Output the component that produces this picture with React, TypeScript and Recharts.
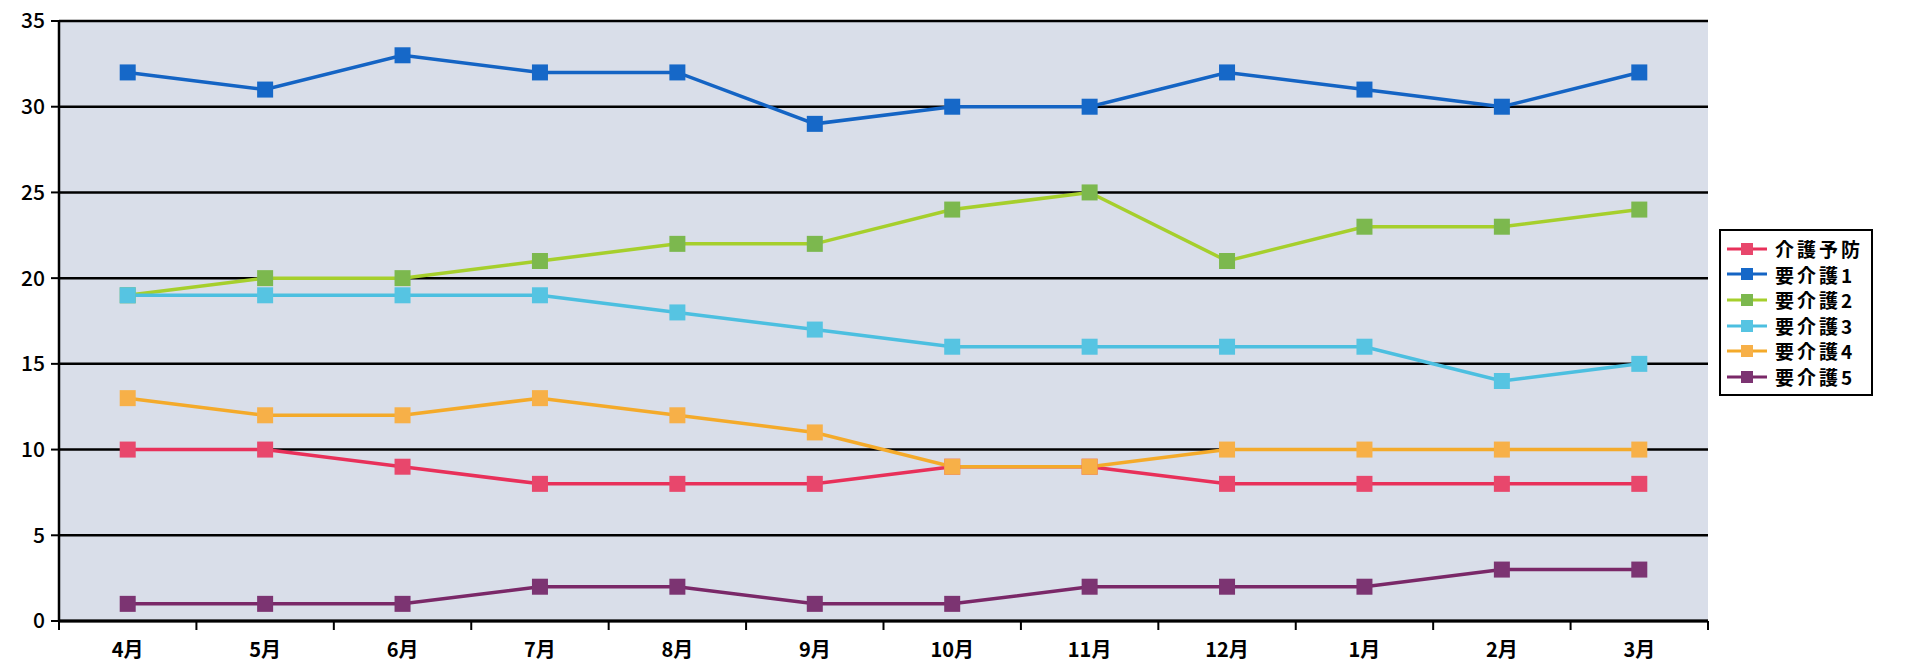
import {
  LineChart,
  Line,
  XAxis,
  YAxis,
  CartesianGrid,
} from "recharts";

const months = ["4月", "5月", "6月", "7月", "8月", "9月", "10月", "11月", "12月", "1月", "2月", "3月"];

const yobo = [10, 10, 9, 8, 8, 8, 9, 9, 8, 8, 8, 8];
const kaigo1 = [32, 31, 33, 32, 32, 29, 30, 30, 32, 31, 30, 32];
const kaigo2 = [19, 20, 20, 21, 22, 22, 24, 25, 21, 23, 23, 24];
const kaigo3 = [19, 19, 19, 19, 18, 17, 16, 16, 16, 16, 14, 15];
const kaigo4 = [13, 12, 12, 13, 12, 11, 9, 9, 10, 10, 10, 10];
const kaigo5 = [1, 1, 1, 2, 2, 1, 1, 2, 2, 2, 3, 3];

const yTicks = [0, 5, 10, 15, 20, 25, 30, 35];

const SERIES = [
  { key: "介護予防", values: yobo, line: "#e8305a", marker: "#e8476c" },
  { key: "要介護1", values: kaigo1, line: "#1464c4", marker: "#1668c8" },
  { key: "要介護2", values: kaigo2, line: "#a6cf2c", marker: "#7cb84e" },
  { key: "要介護3", values: kaigo3, line: "#4cbfe0", marker: "#56c4e2" },
  { key: "要介護4", values: kaigo4, line: "#f4aa2a", marker: "#f7b048" },
  { key: "要介護5", values: kaigo5, line: "#7a2868", marker: "#7c3472" },
];

const data = months.map((m, i) => {
  const row: Record<string, any> = { month: m };
  SERIES.forEach((s) => (row[s.key] = s.values[i]));
  return row;
});

const FONT = "'Noto Sans CJK JP', 'DejaVu Sans', sans-serif";

function SquareDot(props: any) {
  const { cx, cy, fill } = props;
  if (cx == null || cy == null) return null;
  return <rect x={cx - 8} y={cy - 8} width={16} height={16} fill={fill} />;
}

// month label at band centre, tick marks on the band edges (Excel style)
function MonthTick(props: any) {
  const { x, y, payload, index } = props;
  const half = payload?.offset ?? 68.7;
  return (
    <g>
      <line x1={x - half} y1={y - 8} x2={x - half} y2={y + 1} stroke="#000" strokeWidth={2} />
      {index === months.length - 1 && (
        <line x1={x + half} y1={y - 8} x2={x + half} y2={y + 1} stroke="#000" strokeWidth={2} />
      )}
      <text
        x={x}
        y={y + 28}
        textAnchor="middle"
        fontSize={20}
        fontWeight={700}
        fontFamily={FONT}
        fill="#000"
      >
        {payload.value}
      </text>
    </g>
  );
}

function LegendBox() {
  return (
    <div
      style={{
        position: "absolute",
        left: 1719,
        top: 229,
        border: "2px solid #000",
        background: "#fff",
        padding: "5px 8px 4px 6px",
        fontFamily: FONT,
        fontWeight: 700,
        fontSize: 19,
        letterSpacing: 3,
        lineHeight: "25.6px",
        color: "#000",
      }}
    >
      {SERIES.map((s) => (
        <div key={s.key} style={{ display: "flex", alignItems: "center", whiteSpace: "nowrap", height: 25.6 }}>
          <svg width={42} height={20} style={{ marginRight: 6 }}>
            <line x1={0} y1={10} x2={40} y2={10} stroke={s.line} strokeWidth={3} />
            <rect x={14} y={4} width={12} height={12} fill={s.marker} />
          </svg>
          <span>{s.key}</span>
        </div>
      ))}
    </div>
  );
}

export default function App() {
  return (
    <div style={{ position: "absolute", left: 0, top: 0, width: 1914, height: 669, background: "#fff" }}>
      <LineChart
        width={1914}
        height={669}
        data={data}
        margin={{ top: 21, right: 206, bottom: 0, left: 0 }}
      >
        <CartesianGrid
          vertical={false}
          stroke="#000"
          strokeWidth={2.5}
          fill="#d9dee9"
          fillOpacity={1}
        />
        <XAxis
          dataKey="month"
          scale="band"
          height={48}
          axisLine={{ stroke: "#000", strokeWidth: 3 }}
          tickLine={false}
          tick={<MonthTick />}
          interval={0}
        />
        <YAxis
          domain={[0, 35]}
          ticks={yTicks}
          width={59}
          interval={0}
          axisLine={{ stroke: "#000", strokeWidth: 2.5 }}
          tickLine={{ stroke: "#000", strokeWidth: 2 }}
          tickSize={8}
          tickMargin={6}
          tick={{ fill: "#000", fontSize: 21, fontFamily: FONT, fontWeight: 500 }}
        />
        {SERIES.map((s) => (
          <Line
            key={s.key}
            type="linear"
            dataKey={s.key}
            stroke={s.line}
            strokeWidth={3.5}
            dot={<SquareDot fill={s.marker} />}
            activeDot={false}
            isAnimationActive={false}
          />
        ))}
      </LineChart>
      <LegendBox />
    </div>
  );
}
